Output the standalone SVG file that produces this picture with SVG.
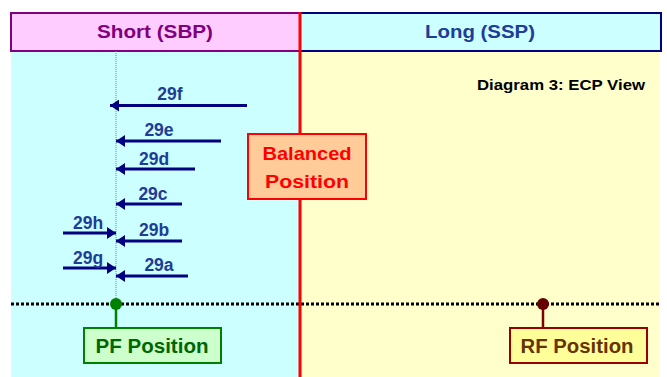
<svg xmlns="http://www.w3.org/2000/svg" width="667" height="377" viewBox="0 0 667 377">
<defs>
<style>
text{font-family:"Liberation Sans",Arial,sans-serif;font-weight:bold}
.lbl{font-size:17.5px;fill:#1f3c96;text-anchor:middle}
.arr{stroke:#000080;stroke-width:3;fill:none}
</style>
<marker id="ah" markerWidth="10" markerHeight="12" refX="9" refY="6" orient="auto" markerUnits="userSpaceOnUse">
<path d="M0,0 L9,6 L0,12 Z" fill="#000080"/>
</marker>
</defs>
<rect x="0" y="0" width="667" height="377" fill="#fff"/>
<g id="panels">
<rect x="11" y="51" width="289" height="326" fill="#ccffff"/>
<rect x="300" y="51" width="360" height="326" fill="#ffffcc"/>
</g>
<g id="header-short">
<rect x="11" y="13" width="289" height="38" fill="#ffccff" stroke="#800080" stroke-width="2"/>
<text x="155" y="38" font-size="18" fill="#800080" text-anchor="middle" textLength="116" lengthAdjust="spacingAndGlyphs">Short (SBP)</text>
</g>
<g id="header-long">
<rect x="300" y="13" width="361" height="38" fill="#ccffff" stroke="#000080" stroke-width="2"/>
<text x="480" y="38" font-size="18" fill="#1f3c96" text-anchor="middle" textLength="110" lengthAdjust="spacingAndGlyphs">Long (SSP)</text>
</g>
<text id="title" x="645" y="90" font-size="15" fill="#000" text-anchor="end" textLength="168" lengthAdjust="spacingAndGlyphs">Diagram 3: ECP View</text>
<line x1="116" y1="51" x2="116" y2="304" stroke="#808080" stroke-width="1" stroke-dasharray="1 1"/>
<line x1="11" y1="304" x2="660" y2="304" stroke="#000" stroke-width="3" stroke-dasharray="3 2"/>
<line x1="300" y1="12" x2="300" y2="377" stroke="#ff0000" stroke-width="3"/>
<g id="connectors">
<line class="arr" x1="247" y1="105.5" x2="110" y2="105.5" marker-end="url(#ah)"/>
<line class="arr" x1="221" y1="141" x2="116" y2="141" marker-end="url(#ah)"/>
<line class="arr" x1="195" y1="169" x2="116" y2="169" marker-end="url(#ah)"/>
<line class="arr" x1="182" y1="204" x2="116" y2="204" marker-end="url(#ah)"/>
<line class="arr" x1="182" y1="241" x2="116" y2="241" marker-end="url(#ah)"/>
<line class="arr" x1="188" y1="276" x2="116" y2="276" marker-end="url(#ah)"/>
<line class="arr" x1="63" y1="233" x2="116" y2="233" marker-end="url(#ah)"/>
<line class="arr" x1="63" y1="268" x2="116" y2="268" marker-end="url(#ah)"/>
<line x1="116" y1="304" x2="116" y2="327" stroke="#008000" stroke-width="2.5"/>
<line x1="543" y1="304" x2="543" y2="327" stroke="#800000" stroke-width="2.5"/>
</g>
<g id="labels">
<text class="lbl" x="170" y="100">29f</text>
<text class="lbl" x="159" y="136">29e</text>
<text class="lbl" x="154" y="165">29d</text>
<text class="lbl" x="153" y="200">29c</text>
<text class="lbl" x="154" y="236">29b</text>
<text class="lbl" x="159" y="271">29a</text>
<text class="lbl" x="88" y="229">29h</text>
<text class="lbl" x="88" y="264">29g</text>
</g>
<g id="balanced">
<rect x="248" y="134" width="118" height="65" fill="#ffcc99" stroke="#ff0000" stroke-width="2"/>
<text x="307" y="160" font-size="19" fill="#ff0000" text-anchor="middle" textLength="89" lengthAdjust="spacingAndGlyphs">Balanced</text>
<text x="307" y="188" font-size="19" fill="#ff0000" text-anchor="middle" textLength="84" lengthAdjust="spacingAndGlyphs">Position</text>
</g>
<g id="pf">
<circle cx="116" cy="304" r="6" fill="#008000"/>
<rect x="84" y="328" width="137" height="35" fill="#ccffcc" stroke="#008000" stroke-width="2"/>
<text x="152" y="353" font-size="20" fill="#006600" text-anchor="middle" textLength="113" lengthAdjust="spacingAndGlyphs">PF Position</text>
</g>
<g id="rf">
<circle cx="543" cy="304" r="6" fill="#660000"/>
<rect x="510" y="328" width="137" height="35" fill="#ffff99" stroke="#990000" stroke-width="2"/>
<text x="577" y="353" font-size="20" fill="#663300" text-anchor="middle" textLength="113" lengthAdjust="spacingAndGlyphs">RF Position</text>
</g>
</svg>
